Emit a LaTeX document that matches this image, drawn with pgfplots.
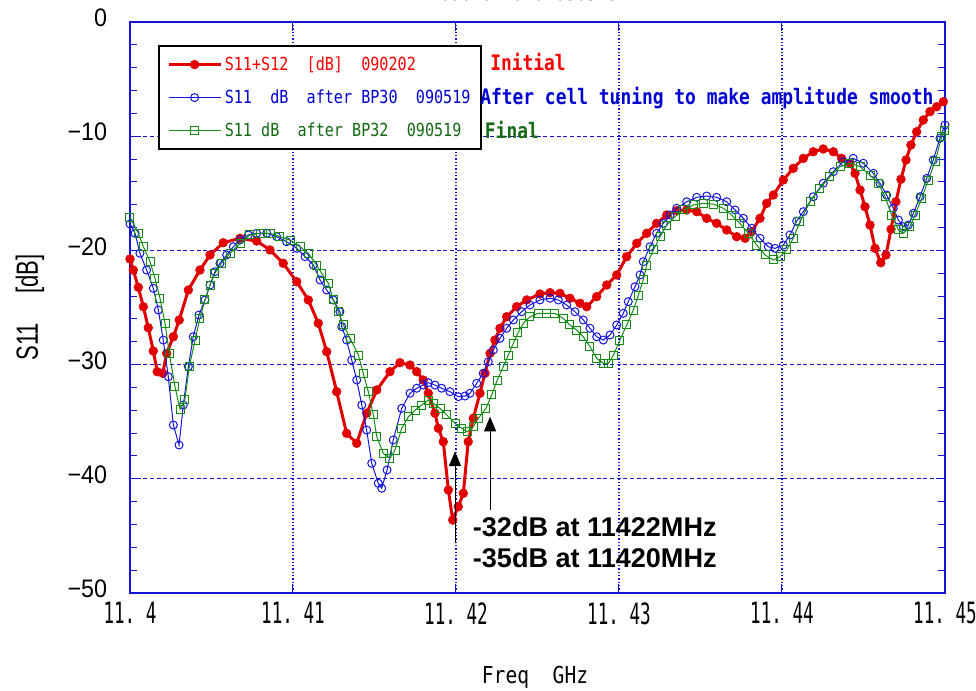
\documentclass[border=0pt]{standalone}
\usepackage{fontspec}
\usepackage{pgfplots}
\usepackage{pgfplotstable}
\pgfplotsset{compat=1.18}
\usetikzlibrary{arrows.meta}
\setmainfont{Liberation Sans}
\newfontfamily\gothic[FakeStretch=0.84]{DejaVu Sans Mono}
\newfontfamily\gothicN[FakeStretch=0.6]{DejaVu Sans Mono}
\newfontfamily\arialT[FakeStretch=0.92]{Liberation Sans}
\newfontfamily\arialN[FakeStretch=0.72]{Liberation Sans}
\definecolor{cred}{RGB}{225,0,0}
\definecolor{cblue}{RGB}{20,20,220}
\definecolor{cgreen}{RGB}{20,140,20}
\definecolor{tred}{RGB}{255,0,0}
\definecolor{tblue}{RGB}{0,0,210}
\definecolor{tgreen}{RGB}{20,105,20}
\definecolor{axblue}{RGB}{20,20,210}

\pgfplotstableread{
f dB
11.40000 -20.75
11.40020 -21.72
11.40051 -23.23
11.40082 -24.93
11.40112 -26.77
11.40143 -28.81
11.40167 -30.62
11.40201 -30.76
11.40225 -29.01
11.40266 -27.56
11.40302 -26.09
11.40358 -23.47
11.40429 -21.72
11.40491 -20.40
11.40572 -19.33
11.40675 -18.94
11.40777 -19.18
11.40859 -19.96
11.40940 -21.13
11.41023 -22.74
11.41094 -24.34
11.41155 -26.38
11.41207 -28.87
11.41268 -32.37
11.41329 -36.02
11.41391 -36.89
11.41452 -34.26
11.41514 -32.22
11.41595 -30.62
11.41656 -29.83
11.41718 -30.04
11.41759 -30.62
11.41799 -31.35
11.41830 -32.51
11.41871 -34.26
11.41892 -35.58
11.41922 -36.75
11.41953 -40.98
11.41980 -43.61
11.42014 -42.44
11.42045 -41.27
11.42075 -36.75
11.42106 -34.70
11.42147 -32.51
11.42178 -30.76
11.42209 -29.01
11.42239 -27.85
11.42270 -26.82
11.42311 -25.81
11.42372 -24.93
11.42434 -24.34
11.42515 -23.82
11.42577 -23.70
11.42638 -23.76
11.42699 -24.19
11.42761 -24.63
11.42802 -24.93
11.42863 -24.05
11.42925 -23.03
11.42986 -22.15
11.43047 -20.55
11.43109 -19.38
11.43170 -18.50
11.43231 -17.63
11.43293 -16.90
11.43354 -16.52
11.43415 -16.46
11.43477 -16.61
11.43538 -17.19
11.43599 -17.63
11.43661 -18.21
11.43722 -18.80
11.43773 -18.94
11.43814 -18.36
11.43865 -17.19
11.43906 -15.88
11.43947 -15.15
11.44008 -13.84
11.44069 -12.81
11.44131 -11.94
11.44192 -11.36
11.44253 -11.12
11.44315 -11.36
11.44366 -11.94
11.44417 -12.37
11.44448 -13.25
11.44479 -14.71
11.44509 -16.17
11.44540 -17.78
11.44571 -19.82
11.44606 -21.08
11.44638 -20.40
11.44669 -18.15
11.44699 -15.74
11.44730 -13.77
11.44761 -12.08
11.44791 -10.77
11.44826 -9.61
11.44867 -8.58
11.44908 -7.85
11.44949 -7.42
11.44990 -6.98
}\initial

\pgfplotstableread{
f dB
11.40000 -17.69
11.40031 -18.50
11.40061 -20.25
11.40102 -21.72
11.40143 -23.32
11.40174 -25.22
11.40204 -27.85
11.40235 -31.06
11.40266 -35.29
11.40301 -37.04
11.40327 -33.54
11.40358 -30.18
11.40388 -27.56
11.40423 -25.66
11.40460 -24.34
11.40491 -23.03
11.40521 -21.87
11.40552 -21.13
11.40593 -20.40
11.40634 -19.68
11.40675 -19.09
11.40726 -18.65
11.40777 -18.50
11.40839 -18.50
11.40900 -18.80
11.40961 -19.24
11.41023 -19.82
11.41074 -20.55
11.41125 -21.28
11.41166 -22.59
11.41207 -23.47
11.41247 -24.34
11.41288 -25.37
11.41299 -26.68
11.41329 -27.85
11.41360 -29.60
11.41391 -31.35
11.41422 -33.54
11.41452 -35.73
11.41483 -38.64
11.41523 -40.39
11.41544 -40.83
11.41577 -39.23
11.41615 -36.60
11.41667 -33.83
11.41718 -32.51
11.41759 -32.07
11.41799 -31.79
11.41830 -31.58
11.41871 -31.79
11.41912 -32.07
11.41963 -32.37
11.42014 -32.81
11.42055 -32.75
11.42086 -32.51
11.42127 -31.64
11.42167 -30.76
11.42198 -29.75
11.42229 -28.72
11.42270 -27.70
11.42311 -26.82
11.42352 -26.09
11.42403 -25.37
11.42454 -24.78
11.42515 -24.34
11.42577 -24.19
11.42628 -24.34
11.42679 -24.78
11.42730 -25.37
11.42781 -26.09
11.42822 -26.82
11.42863 -27.56
11.42904 -27.85
11.42945 -27.41
11.42986 -26.53
11.43026 -25.51
11.43057 -24.49
11.43098 -23.18
11.43129 -22.15
11.43149 -20.99
11.43190 -19.68
11.43231 -18.50
11.43272 -17.63
11.43313 -16.90
11.43354 -16.31
11.43415 -15.74
11.43477 -15.35
11.43538 -15.24
11.43599 -15.35
11.43661 -15.74
11.43712 -16.46
11.43763 -17.19
11.43814 -18.06
11.43865 -18.94
11.43916 -19.68
11.43957 -19.82
11.44008 -19.53
11.44049 -18.65
11.44090 -17.43
11.44131 -16.61
11.44192 -15.30
11.44253 -14.12
11.44315 -13.11
11.44376 -12.23
11.44437 -11.94
11.44499 -12.37
11.44560 -13.25
11.44601 -14.12
11.44642 -15.15
11.44683 -16.31
11.44714 -17.34
11.44744 -17.92
11.44775 -17.78
11.44806 -16.75
11.44847 -15.30
11.44888 -13.69
11.44928 -12.08
11.44969 -10.18
11.45000 -9.02
}\bpthirty

\pgfplotstableread{
f dB
11.40000 -17.08
11.40051 -18.50
11.40082 -19.68
11.40123 -20.99
11.40153 -22.44
11.40184 -24.19
11.40215 -26.38
11.40241 -29.01
11.40276 -31.93
11.40307 -33.91
11.40337 -33.04
11.40364 -30.18
11.40399 -27.85
11.40429 -25.95
11.40460 -24.34
11.40491 -23.03
11.40521 -22.01
11.40562 -21.13
11.40614 -20.25
11.40675 -19.38
11.40736 -18.65
11.40798 -18.50
11.40859 -18.50
11.40920 -18.80
11.40982 -19.09
11.41043 -19.68
11.41094 -20.25
11.41145 -21.28
11.41176 -22.01
11.41217 -22.88
11.41247 -24.34
11.41278 -25.37
11.41309 -26.53
11.41350 -27.70
11.41401 -29.16
11.41431 -30.76
11.41462 -32.37
11.41493 -34.41
11.41514 -36.31
11.41554 -37.77
11.41595 -38.20
11.41626 -37.48
11.41667 -35.58
11.41708 -34.56
11.41749 -33.98
11.41790 -33.54
11.41830 -33.10
11.41861 -33.39
11.41902 -33.83
11.41943 -34.41
11.41994 -35.14
11.42035 -35.58
11.42069 -35.88
11.42106 -35.44
11.42137 -34.70
11.42184 -33.83
11.42219 -32.66
11.42253 -31.35
11.42290 -30.18
11.42321 -29.16
11.42352 -28.13
11.42380 -27.23
11.42413 -26.38
11.42454 -25.81
11.42505 -25.51
11.42556 -25.51
11.42607 -25.51
11.42658 -25.95
11.42699 -26.53
11.42740 -26.97
11.42781 -27.56
11.42822 -28.43
11.42863 -29.45
11.42904 -29.89
11.42935 -29.89
11.42966 -29.16
11.43006 -27.85
11.43047 -26.53
11.43088 -25.22
11.43119 -23.91
11.43149 -22.59
11.43170 -21.28
11.43211 -19.96
11.43252 -18.80
11.43293 -17.78
11.43344 -17.05
11.43395 -16.46
11.43456 -16.02
11.43517 -15.88
11.43579 -15.94
11.43640 -16.31
11.43691 -16.90
11.43742 -17.63
11.43793 -18.50
11.43845 -19.53
11.43896 -20.40
11.43947 -20.84
11.43988 -20.55
11.44029 -19.96
11.44069 -18.94
11.44110 -17.51
11.44172 -15.74
11.44233 -14.56
11.44294 -13.55
11.44356 -12.67
11.44417 -12.37
11.44479 -12.67
11.44540 -13.40
11.44591 -14.12
11.44632 -15.30
11.44673 -16.90
11.44714 -18.21
11.44744 -18.50
11.44785 -17.92
11.44816 -16.90
11.44857 -15.44
11.44898 -13.84
11.44939 -12.23
11.44980 -10.04
11.45000 -9.46
}\bpthirtytwo

\begin{document}
\begin{tikzpicture}
\begin{axis}[
  scale only axis, width=611.25pt, height=428.25pt,
  at={(0,0)}, anchor=south west,
  xmin=11.4, xmax=11.45, ymin=-50, ymax=0,
  clip mode=individual,
  xtick={11.4,11.41,11.42,11.43,11.44,11.45},
  xticklabels={11.~4,11.~41,11.~42,11.~43,11.~44,11.~45},
  ytick={-50,-40,-30,-20,-10,0},
  yticklabels={−50,−40,−30,−20,−10,0},
  minor y tick num=4,
  axis line style={axblue, line width=1.3pt},
  tick style={axblue, line width=0.75pt},
  major tick length=7pt, minor tick length=5pt,
  grid=major,
  major grid style={axblue, line width=0.8pt},
  every axis x grid/.append style={dash pattern=on 1pt off 1.5pt},
  every axis y grid/.append style={dash pattern=on 3pt off 2pt},
  xticklabel style={font=\gothicN\fontsize{22pt}{23pt}\selectfont, anchor=north, inner sep=0pt, yshift=-7pt},
  yticklabel style={font=\arialT\fontsize{19pt}{20pt}\selectfont, anchor=east, inner sep=0pt, xshift=-17pt, yshift=3pt},
  xlabel={Freq~~GHz},
  every axis x label/.style={at={(rel axis cs:0.497,0)}, anchor=base, yshift=-67.5pt, font=\gothic\fontsize{17.5pt}{18pt}\selectfont},
  ylabel={S11\hspace{22pt}[dB]},
  every axis y label/.style={at={(rel axis cs:-0.1227,0.5)}, rotate=90, anchor=center, font=\arialN\fontsize{23pt}{24pt}\selectfont},
  legend style={at={(rel axis cs:0.0344,0.9597)}, anchor=north west, draw=black, line width=1.6pt, fill=white,
    inner xsep=6pt, inner ysep=6pt, row sep=9pt,
    font=\gothic\fontsize{13.5pt}{14pt}\selectfont, nodes={inner sep=2pt}},
  legend cell align=left,
  legend image code/.code={\draw[mark repeat=2,mark phase=2,#1] plot coordinates {(0pt,0pt) (19.5pt,0pt) (39pt,0pt)};},
]
\addplot[color=cred, line width=2.25pt, mark=*, mark size=3.3pt, mark options={solid, line width=0.4pt}] table[x=f,y=dB] {\initial};
\addlegendentry{\textcolor{tred}{S11+S12~~[dB]~~090202}}
\addplot[color=cblue, line width=0.75pt, mark=o, mark size=3pt, mark options={solid, line width=0.75pt}] table[x=f,y=dB] {\bpthirty};
\addlegendentry{\textcolor{tblue}{S11~~dB~~after BP30~~090519}}
\addplot[color=cgreen, line width=0.75pt, mark=square, mark size=3pt, mark options={solid, line width=0.75pt}] table[x=f,y=dB] {\bpthirtytwo};
\addlegendentry{\textcolor{tgreen}{S11 dB~~after BP32~~090519}}
\draw[-{Triangle[width=9pt,length=11pt]}, line width=0.75pt, black] (axis cs:11.41994,-45.6) -- (axis cs:11.41994,-37.6);
\draw[-{Triangle[width=9pt,length=11pt]}, line width=0.75pt, black] (axis cs:11.42209,-42.7) -- (axis cs:11.42209,-34.56);
\end{axis}
\node[anchor=base west, inner sep=0pt, text=tred, font=\gothic\fontsize{16pt}{17pt}\selectfont\bfseries] at (270pt,391.5pt) {Initial};
\node[anchor=base west, inner sep=0pt, text=tblue, font=\gothic\fontsize{16pt}{17pt}\selectfont\bfseries] at (262.5pt,366pt) {After cell tuning to make amplitude smooth};
\node[anchor=base west, inner sep=0pt, text=tgreen, font=\gothic\fontsize{16pt}{17pt}\selectfont\bfseries] at (266pt,340.5pt) {Final};
\node[anchor=base west, inner sep=0pt, font=\fontsize{20.3pt}{22pt}\selectfont\bfseries] at (257pt,42pt) {-32dB at 11422MHz};
\node[anchor=base west, inner sep=0pt, font=\fontsize{20.3pt}{22pt}\selectfont\bfseries] at (257pt,18.75pt) {-35dB at 11420MHz};
\node[anchor=base, inner sep=0pt, font=\gothic\fontsize{15.5pt}{16pt}\selectfont] at (299.25pt,444.5pt) {090202 and 090519};
\pgfresetboundingbox
\path (-97.5pt,-72.75pt) rectangle (634.5pt,444.75pt);
\end{tikzpicture}
\end{document}
